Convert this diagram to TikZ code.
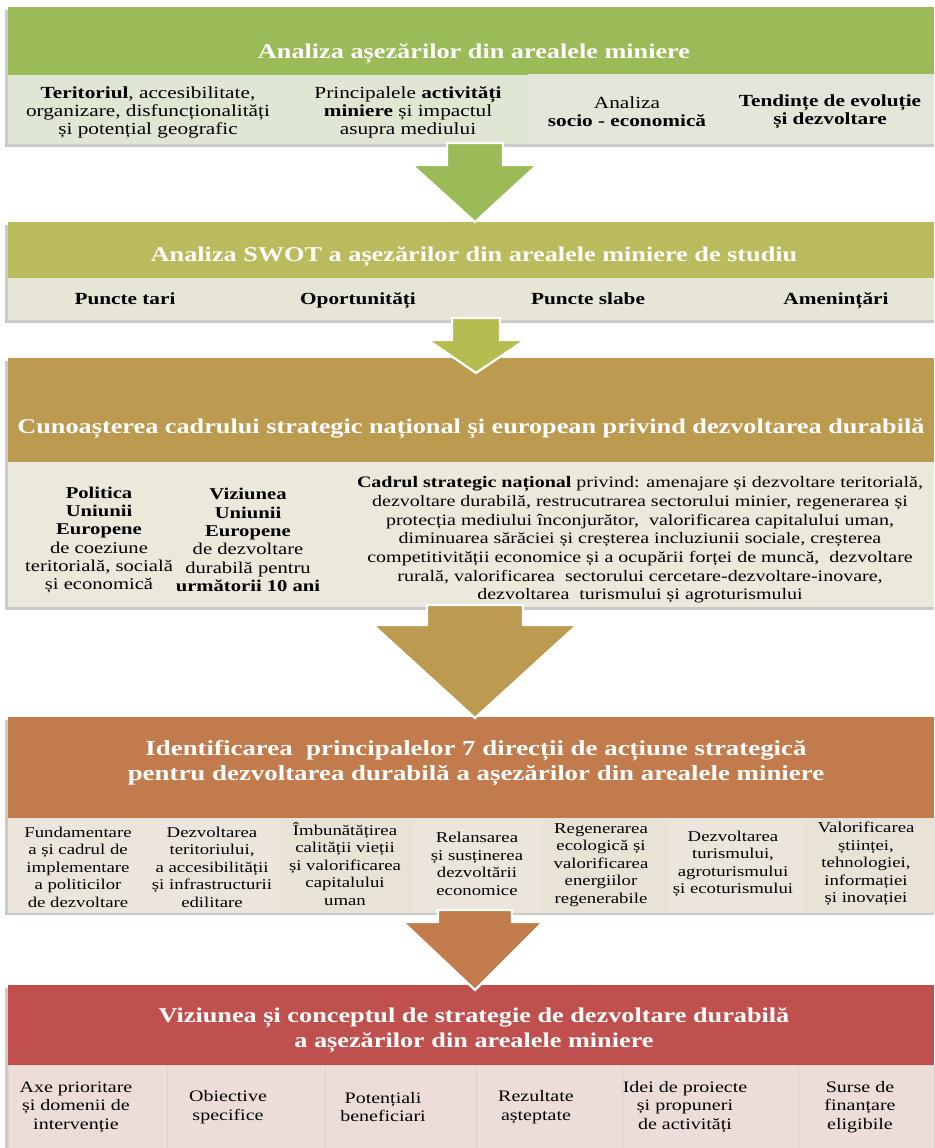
\documentclass[tikz,border=0pt]{standalone}
\usepackage{fontspec}
\setmainfont{Liberation Serif}[FakeStretch=1.25]
\definecolor{hA}{HTML}{9BBB59}
\definecolor{sA}{HTML}{DFE6D3}
\definecolor{sAb}{HTML}{E3E7DA}
\definecolor{hB}{HTML}{BABB5C}
\definecolor{sB}{HTML}{E7E5D6}
\definecolor{aB}{HTML}{B5BD50}
\definecolor{hC}{HTML}{BC9A50}
\definecolor{sC}{HTML}{EDE8DC}
\definecolor{hD}{HTML}{C27B4C}
\definecolor{sD}{HTML}{ECE5DB}
\definecolor{sDb}{HTML}{E9E2D7}
\definecolor{hE}{HTML}{C0504D}
\definecolor{sE}{HTML}{EDDDD8}
\definecolor{shd}{HTML}{CACACA}
\begin{document}
\begin{tikzpicture}[x=1pt,y=-1pt,
  box/.style={anchor=north west, inner sep=0pt, outer sep=0pt, draw=#1, line width=0.6pt},
  box/.default=white,
  plain/.style={anchor=north west, inner sep=0pt, outer sep=0pt},
  hdrtext/.style={text=white, inner sep=0pt, align=center, font=\bfseries\fontsize{21}{25}\selectfont},
  subtext/.style={inner sep=0pt, align=center, font=\fontsize{17}{18}\selectfont},
  swottext/.style={inner sep=0pt, anchor=base, font=\bfseries\fontsize{17}{18}\selectfont},
  coltext/.style={inner sep=0pt, align=center, font=\fontsize{16.5}{18.3}\selectfont},
  smalltext/.style={inner sep=0pt, align=center, font=\fontsize{15}{17.5}\selectfont},
  lasttext/.style={inner sep=0pt, align=center, font=\fontsize{16}{18.5}\selectfont},
  blockarrow/.style={draw=white, line width=2.2pt, line join=miter}
]
\useasboundingbox (0,0) rectangle (934,1148);
% ---------- section 1
\fill[shd] (5,10) rectangle (934,147);
\node[plain, fill=hA, minimum width=926, minimum height=68] (h1) at (8,7) {};
\node[hdrtext] (t1) at (474,54) {Analiza așezărilor din arealele miniere};
\node[plain, fill=sA, minimum width=280, minimum height=69] (a1) at (8,75) {};
\node[plain, fill=sA, minimum width=240, minimum height=69] (a2) at (288,75) {};
\node[plain, fill=sAb, minimum width=200, minimum height=70] (a3) at (528,74) {};
\node[plain, fill=sAb, minimum width=206, minimum height=70] (a4) at (728,74) {};
\node[subtext] (ta1) at (148,112) {\textbf{Teritoriul}, accesibilitate,\\organizare, disfuncționalități\\și potențial geografic};
\node[subtext] (ta2) at (408,112) {Principalele \textbf{activități}\\\textbf{miniere} și impactul\\asupra mediului};
\node[subtext] (ta3) at (627,112) {Analiza\\\textbf{socio - economică}};
\node[subtext] (ta4) at (830,112) {\textbf{Tendințe de evoluție}\\\textbf{și dezvoltare}};
% ---------- section 2
\fill[shd] (5,225) rectangle (934,323);
\node[plain, fill=hB, minimum width=926, minimum height=56] (h2) at (8,222) {};
\node[hdrtext] (t2) at (474,257) {Analiza SWOT a așezărilor din arealele miniere de studiu};
\node[plain, fill=sB, minimum width=234, minimum height=42] (b1) at (8,278) {};
\node[plain, fill=sB, minimum width=233, minimum height=42] (b2) at (242,278) {};
\node[plain, fill=sB, minimum width=250, minimum height=42] (b3) at (475,278) {};
\node[plain, fill=sB, minimum width=209, minimum height=42] (b4) at (725,278) {};
\node[swottext] (tb1) at (125,304) {Puncte tari};
\node[swottext] (tb2) at (358,304) {Oportunități};
\node[swottext] (tb3) at (588,304) {Puncte slabe};
\node[swottext] (tb4) at (836,304) {Amenințări};
% arrow 1
\filldraw[blockarrow, fill=hA] (447,143) -- (503,143) -- (503,165) -- (537,165) -- (475,222) -- (412,165) -- (447,165) -- cycle;
% ---------- section 3
\fill[shd] (5,361) rectangle (934,610);
\node[plain, fill=hC, minimum width=926, minimum height=104] (h3) at (8,358) {};
\node[hdrtext] (t3) at (471,429) {Cunoașterea cadrului strategic național și european privind dezvoltarea durabilă};
\node[plain, fill=sC, minimum width=180, minimum height=145] (c1) at (8,462) {};
\node[plain, fill=sC, minimum width=148, minimum height=145] (c2) at (188,462) {};
\node[plain, fill=sC, minimum width=598, minimum height=145] (c3) at (336,462) {};
\node[coltext] (tc1) at (99,540) {\textbf{Politica}\\\textbf{Uniunii}\\\textbf{Europene}\\de coeziune\\teritorială, socială\\și economică};
\node[coltext] (tc2) at (248,540) {\textbf{Viziunea}\\\textbf{Uniunii}\\\textbf{Europene}\\de dezvoltare\\durabilă pentru\\\textbf{următorii 10 ani}};
\node[coltext, font=\fontsize{16}{18.7}\selectfont] (tc3) at (640,540) {\textbf{Cadrul strategic național} privind: amenajare și dezvoltare teritorială,\\dezvoltare durabilă, restrucutrarea sectorului minier, regenerarea și\\protecția mediului înconjurător,\ \ valorificarea capitalului uman,\\diminuarea sărăciei și creșterea incluziunii sociale, creșterea\\competitivității economice și a ocupării forței de muncă,\ \ dezvoltare\\rurală, valorificarea\ \ sectorului cercetare-dezvoltare-inovare,\\dezvoltarea\ \ turismului și agroturismului};
% arrow 2
\filldraw[blockarrow, fill=aB] (452,318) -- (500,318) -- (500,340) -- (525,340) -- (476,373) -- (428,340) -- (452,340) -- cycle;
% ---------- section 4
\fill[shd] (5,720) rectangle (934,915);
\node[plain, fill=hD, minimum width=926, minimum height=101] (h4) at (8,717) {};
\node[hdrtext, font=\bfseries\fontsize{21.5}{25}\selectfont] (t4) at (476,763) {Identificarea\ \ principalelor 7 direcții de acțiune strategică\\pentru dezvoltarea durabilă a așezărilor din arealele miniere};
\node[box=sDb, fill=sD, minimum width=137, minimum height=94] (d1) at (8,818) {};
\node[box=sDb, fill=sD, minimum width=135, minimum height=94] (d2) at (145,818) {};
\node[box=sDb, fill=sDb, minimum width=132, minimum height=94] (d3) at (280,818) {};
\node[box=sDb, fill=sD, minimum width=130, minimum height=94] (d4) at (412,818) {};
\node[box=sDb, fill=sDb, minimum width=127, minimum height=94] (d5) at (542,818) {};
\node[box=sDb, fill=sD, minimum width=133, minimum height=94] (d6) at (669,818) {};
\node[box=sDb, fill=sDb, minimum width=132, minimum height=94] (d7) at (802,818) {};
\node[smalltext] (td1) at (78,867) {Fundamentare\\a și cadrul de\\implementare\\a politicilor\\de dezvoltare};
\node[smalltext] (td2) at (212,867) {Dezvoltarea\\teritoriului,\\a accesibilității\\și infrastructurii\\edilitare};
\node[smalltext] (td3) at (345,864) {Îmbunătățirea\\calității vieții\\și valorificarea\\capitalului\\uman};
\node[smalltext] (td4) at (477,864) {Relansarea\\și susținerea\\dezvoltării\\economice};
\node[smalltext] (td5) at (601,865) {Regenerarea\\ecologică și\\valorificarea\\energiilor\\regenerabile};
\node[smalltext] (td6) at (733,864) {Dezvoltarea\\turismului,\\agroturismului\\și ecoturismului};
\node[smalltext] (td7) at (866,864) {Valorificarea\\științei,\\tehnologiei,\\informației\\și inovației};
% arrow 3
\filldraw[blockarrow, fill=hC] (427,605) -- (523,605) -- (523,625) -- (577,625) -- (475,718) -- (373,625) -- (427,625) -- cycle;
% ---------- section 5
\fill[shd] (5,988) rectangle (934,1148);
\node[plain, fill=hE, minimum width=926, minimum height=80] (h5) at (8,985) {};
\node[hdrtext] (t5) at (474,1030) {Viziunea și conceptul de strategie de dezvoltare durabilă\\a așezărilor din arealele miniere};
\node[box=sE!85!gray, fill=sE, minimum width=159, minimum height=85] (e1) at (8,1065) {};
\node[box=sE!85!gray, fill=sE, minimum width=158, minimum height=85] (e2) at (167,1065) {};
\node[box=sE!85!gray, fill=sE, minimum width=151, minimum height=85] (e3) at (325,1065) {};
\node[box=sE!85!gray, fill=sE, minimum width=146, minimum height=85] (e4) at (476,1065) {};
\node[box=sE!85!gray, fill=sE, minimum width=176, minimum height=85] (e5) at (622,1065) {};
\node[box=sE!85!gray, fill=sE, minimum width=136, minimum height=85] (e6) at (798,1065) {};
\node[lasttext] (te1) at (76,1107) {Axe prioritare\\și domenii de\\intervenție};
\node[lasttext] (te2) at (228,1107) {Obiective\\specifice};
\node[lasttext] (te3) at (383,1107) {Potențiali\\beneficiari};
\node[lasttext] (te4) at (536,1107) {Rezultate\\așteptate};
\node[lasttext] (te5) at (685,1107) {Idei de proiecte\\și propuneri\\de activități};
\node[lasttext] (te6) at (860,1107) {Surse de\\finanțare\\eligibile};
% arrow 4
\filldraw[blockarrow, fill=hD] (438,910) -- (512,910) -- (512,922) -- (543,922) -- (475,990) -- (403,922) -- (438,922) -- cycle;
\end{tikzpicture}
\end{document}
